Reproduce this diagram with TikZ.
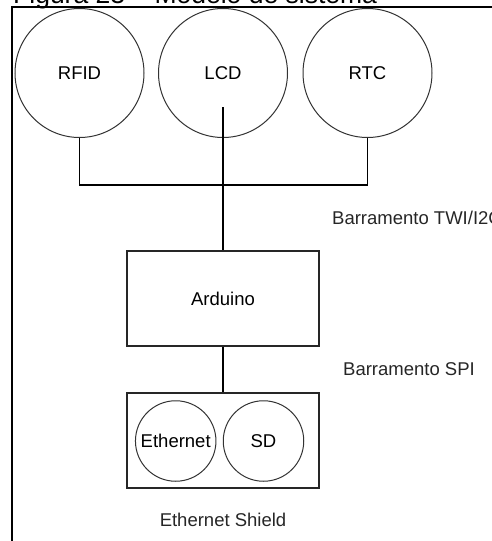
\documentclass[tikz,border=0pt]{standalone}
\usepackage{fontspec}
\setmainfont{Liberation Sans}
\usepackage{tikz}
\usetikzlibrary{positioning,calc}

\begin{document}
\begin{tikzpicture}[
    x=1pt, y=-1pt,
    part/.style={circle, draw=black!80, line width=1pt, inner sep=0pt, minimum size=129pt, font=\fontsize{18.5}{20}\selectfont},
    small_part/.style={circle, draw=black!80, line width=1pt, inner sep=0pt, minimum size=80.5pt, font=\fontsize{18.5}{20}\selectfont},
    board/.style={rectangle, draw=black!85, line width=1.2pt, inner sep=0pt, minimum width=192pt},
    wire/.style={draw=black, line width=1.1pt},
    label/.style={inner sep=0pt, text=black!85, font=\fontsize{18.5}{20}\selectfont}
]
    \useasboundingbox (0,0) rectangle (491,541);

    % caption and frame
    \node[inner sep=0pt, anchor=base west, font=\fontsize{26.5}{28}\selectfont] (caption) at (13,3.5) {Figura 23 -- Modelo de sistema};
    \draw[line width=2.2pt] (12,600) -- (12,7) -- (600,7);

    \node[part] (rfid) at (79.5,73) {RFID};
    \node[part] (lcd) at (223,73) {LCD};
    \node[part] (rtc) at (367.5,73) {RTC};

    \node[board, minimum height=95pt, font=\fontsize{18.5}{20}\selectfont] (arduino) at (223,298.5) {Arduino};
    \node[board, minimum height=95pt] (shield) at (223,440.5) {};
    \node[small_part] (eth) at (175.7,441) {Ethernet};
    \node[small_part] (sd) at (263.5,441) {SD};

    \coordinate (lcdend) at (223,107);
    \coordinate (bus) at (223,185);

    \draw[wire] (rfid.south) |- (bus) -| (rtc.south);
    \draw[wire] (lcdend) -- (arduino.north);
    \draw[wire] (arduino.south) -- (shield.north);

    \node[label, anchor=base west] (twi) at (332,224) {Barramento TWI/I2C};
    \node[label, anchor=base west] (spi) at (343,375) {Barramento SPI};
    \node[label, anchor=base] (shieldname) at (223,526) {Ethernet Shield};
\end{tikzpicture}
\end{document}
